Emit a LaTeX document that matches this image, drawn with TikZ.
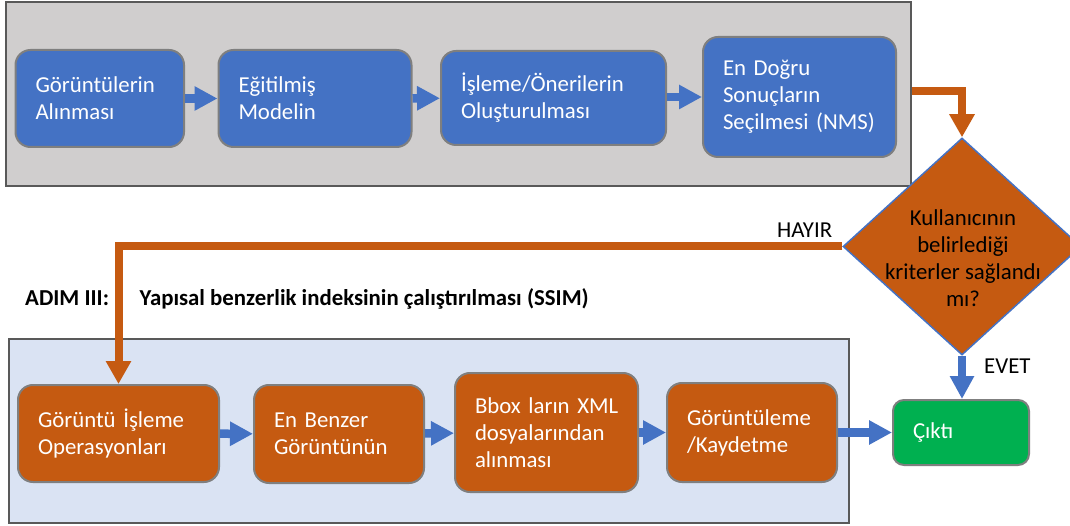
\documentclass[tikz,border=0pt]{standalone}
\usepackage{fontspec}
\setmainfont{Carlito}
\usetikzlibrary{arrows.meta,shapes.geometric,calc}
\definecolor{bblue}{HTML}{4472C4}
\definecolor{borange}{HTML}{C55A11}
\definecolor{bgreen}{HTML}{00B050}
\definecolor{pgray}{HTML}{D0CECE}
\definecolor{pblue}{HTML}{DAE3F3}
\definecolor{edgegray}{HTML}{595959}
\definecolor{boxedge}{HTML}{7F7F7F}
\begin{document}
\begin{tikzpicture}[x=1pt,y=-1pt,
  font=\fontsize{22.8}{27}\selectfont,
  panel/.style={draw=edgegray,line width=2.5pt,inner sep=0pt},
  box/.style={draw=boxedge,line width=2pt,rounded corners=15pt,text=white,align=left,inner xsep=20pt,inner ysep=0pt},
  bx/.style 2 args={box,text width=#1,minimum height=#2},
  bluebox/.style={fill=bblue},
  orangebox/.style={fill=borange},
  greenbox/.style={fill=bgreen},
  barrow/.style={draw=bblue,line width=8.5pt,-{Triangle[length=23pt,width=23pt]}},
  oarrow/.style={draw=borange,line width=8pt,-{Triangle[length=23pt,width=24pt]}},
  lbl/.style={anchor=base west,inner sep=0pt,text=black},
  boldlbl/.style={lbl,font=\fontsize{22.8}{27}\selectfont\bfseries}
]
\useasboundingbox (0,0) rectangle (1070,526);
\clip (0,0) rectangle (1070,526);
\fill[white] (0,0) rectangle (1070,526);

% panels
\node[panel,fill=pgray,minimum width=905pt,minimum height=184pt] (toppanel) at (458.5,94) {};
\node[panel,fill=pblue,minimum width=840pt,minimum height=184pt] (botpanel) at (429,431) {};

% top row
\node[bx={128.5pt}{97pt},bluebox] (b1) at (99.75,98.5) {Görüntülerin\\Alınması};
\node[bx={153pt}{97pt},bluebox] (b2) at (315,98.5) {Eğitilmiş\\Modelin};
\node[bx={185pt}{94pt},bluebox] (b3) at (553.5,98) {İşleme/Önerilerin\\Oluşturulması};
\node[bx={153pt}{120pt},bluebox] (b4) at (799.5,97) {En Doğru\\Sonuçların\\\mbox{Seçilmesi (NMS)}};

% bottom row
\node[bx={161pt}{97pt},orangebox] (c1) at (118.5,433.5) {\mbox{Görüntü İşleme}\\Operasyonları};
\node[bx={130pt}{98pt},orangebox] (c2) at (339,434) {En Benzer\\Görüntünün};
\node[bx={143pt}{119pt},orangebox] (c3) at (546.5,432.5) {\mbox{Bbox ların XML}\\dosyalarından\\alınması};
\node[bx={130pt}{99pt},orangebox] (c4) at (752,432.5) {Görüntüleme\\/Kaydetme};
\node[bx={96pt}{65pt},greenbox,rounded corners=11pt] (out) at (961,432.5) {Çıktı};

% decision
\node[diamond,draw=bblue,fill=borange,line width=1.5pt,minimum width=238pt,minimum height=217pt,inner sep=0pt] (dia) at (962,246.5) {};
\node[align=center,inner sep=0pt,text=black] (diatext) at (963,258) {Kullanıcının\\belirlediği\\kriterler sağlandı\\mı?};

% labels
\node[lbl] (hayir) at (777,238) {HAYIR};
\node[lbl] (evet) at (984,373) {EVET};
\node[boldlbl] (adim) at (25,306) {ADIM III:};
\node[boldlbl] (ssim) at (139.5,306) {Yapısal benzerlik indeksinin çalıştırılması (SSIM)};

% connectors
\draw[barrow] (b1) -- (b2);
\draw[barrow] (b2) -- (b3);
\draw[barrow] (b3.east |- b4.west) -- (b4.west);
\draw[barrow] (c1) -- (c2);
\draw[barrow] (c2) -- (c3);
\draw[barrow] (c3.east |- c4.west) -- (c4.west);
\draw[barrow] (c4) -- (out);
\coordinate (tpout) at ($(toppanel.east)+(0,-3)$);
\draw[oarrow] (tpout) -| (dia.north);
\draw[oarrow] (dia.west) -| (c1.north);
\draw[barrow] (dia.south) -- (dia.south |- out.north);
\end{tikzpicture}
\end{document}
